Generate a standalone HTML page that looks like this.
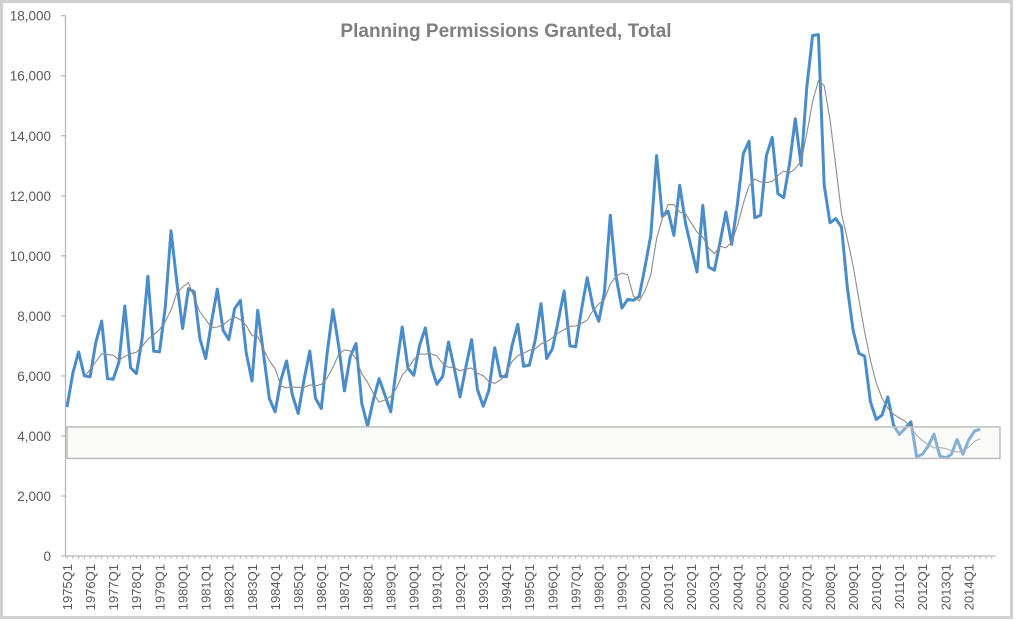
<!DOCTYPE html>
<html><head><meta charset="utf-8"><style>
body{margin:0;background:#fff;}
svg{display:block;font-family:"Liberation Sans",sans-serif;}
</style></head><body>
<svg id="chart" width="1016" height="621" viewBox="0 0 1016 621"></svg>
<script>
const startYear = 1975;
const values = [4960,6090,6800,6000,5970,7130,7830,5910,5890,6470,8330,6270,6080,7240,9320,6820,6800,8300,10830,9130,7580,8910,8800,7240,6580,7800,8890,7520,7210,8240,8520,6770,5830,8190,6750,5250,4800,5860,6500,5360,4750,5860,6830,5250,4910,6750,8210,7000,5500,6640,7080,5080,4330,5190,5910,5360,4800,6300,7630,6250,6020,7020,7600,6320,5720,5990,7130,6250,5300,6280,7210,5550,4990,5520,6940,5990,5970,7020,7720,6320,6360,7190,8410,6580,6910,7850,8830,7000,6970,8190,9270,8300,7820,8800,11350,9300,8260,8550,8520,8650,9630,10680,13340,11310,11490,10680,12350,11090,10270,9460,11680,9630,9520,10460,11460,10380,11740,13400,13820,11270,11350,13340,13950,12070,11940,13070,14570,13010,15620,17340,17370,12350,11100,11240,10960,8960,7520,6750,6660,5140,4550,4690,5300,4360,4050,4250,4470,3300,3390,3660,4060,3330,3270,3380,3880,3390,3860,4160,4220];
const yTicks = [0,2000,4000,6000,8000,10000,12000,14000,16000,18000];
const highlightRange = [3250,4300];
const maWindow = 4;

const NS="http://www.w3.org/2000/svg";
const svg=document.getElementById('chart');
const X0=67, DX=5.78, Y0=556, Y1=15.7, YMAX=18000;
const xs=i=>X0+i*DX;
const ys=v=>Y0-(v/YMAX)*(Y0-Y1);
function mk(tag,attrs,parent){const e=document.createElementNS(NS,tag);for(const k in attrs)e.setAttribute(k,attrs[k]);(parent||svg).appendChild(e);return e;}

let f=mk('rect',{x:1.5,y:1.5,width:1010,height:616,fill:'#fff',stroke:'#d0d0d0','stroke-width':3});



let t=mk('text',{x:506,y:37,'text-anchor':'middle','font-size':19,'font-weight':'bold',fill:'#7f7f7f'});
t.textContent='Planning Permissions Granted, Total';



let ya=mk('line',{x1:65.5,y1:Y1,x2:65.5,y2:Y0,stroke:'#b8b8b8','stroke-width':1.3});


yTicks.forEach(v=>{
  const y=ys(v);
  const tk=mk('line',{x1:61,y1:y,x2:65.5,y2:y,stroke:'#b8b8b8','stroke-width':1.2});
  
  
  const l=mk('text',{x:51,y:y+5,'text-anchor':'end','font-size':13.5,fill:'#595959'});
  l.textContent=v.toLocaleString('en-US');
  
  
});

const nSlots=values.length+2;
let xa=mk('line',{x1:65.5,y1:Y0,x2:xs(nSlots-1)+4,y2:Y0,stroke:'#b8b8b8','stroke-width':1.3});


for(let i=0;i<nSlots;i++){
  const tk=mk('line',{x1:xs(i),y1:Y0,x2:xs(i),y2:Y0+3,stroke:'#b8b8b8','stroke-width':1});
  
  
  if(i%4===0 && i<values.length){
    const x=xs(i)+4.8, y=564;
    const l=mk('text',{x:x,y:y,'text-anchor':'end','font-size':13,fill:'#595959',transform:`rotate(-90 ${x} ${y})`});
    l.textContent=(startYear+i/4)+'Q1';
    
    
  }
}

let d=values.map((v,i)=>(i?'L':'M')+xs(i).toFixed(1)+','+ys(v).toFixed(1)).join(' ');
let p=mk('path',{d:d,fill:'none',stroke:'#4a8cca','stroke-width':3,'stroke-linejoin':'round'});



let md='';
for(let i=maWindow-1;i<values.length;i++){
  let s=0;for(let k=0;k<maWindow;k++)s+=values[i-k];
  md+=(md?'L':'M')+xs(i).toFixed(1)+','+ys(s/maWindow).toFixed(1)+' ';
}
let m=mk('path',{d:md,fill:'none',stroke:'#8c8c8c','stroke-width':1.1});



let hb=mk('rect',{x:67,y:ys(highlightRange[1]),width:933,height:ys(highlightRange[0])-ys(highlightRange[1]),fill:'rgba(242,242,236,0.35)',stroke:'#bdbdbd','stroke-width':1.5});


</script>
</body></html>
